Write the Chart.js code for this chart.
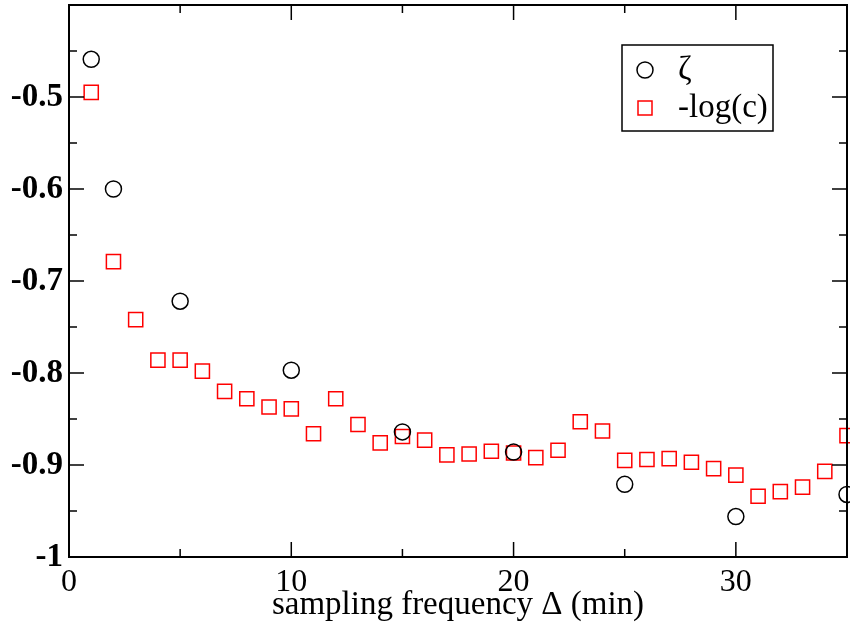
<!DOCTYPE html>
<html>
<head>
<meta charset="utf-8">
<script src="https://cdn.jsdelivr.net/npm/chart.js@4.4.0/dist/chart.umd.min.js"></script>
<style>
  html, body { margin: 0; padding: 0; background: #fff; }
</style>
</head>
<body>
<canvas id="chart" width="850" height="628"></canvas>
<script>
// data
const zetaX = [1, 2, 5, 10, 15, 20, 25, 30, 35];
const zetaY = [-0.459, -0.600, -0.722, -0.797, -0.864, -0.886, -0.921, -0.956, -0.932];

const logcX = [1, 2, 3, 4, 5, 6, 7, 8, 9, 10, 11, 12, 13, 14, 15, 16, 17, 18,
  19, 20, 21, 22, 23, 24, 25, 26, 27, 28, 29, 30, 31, 32, 33, 34, 35];
const logcY = [-0.495, -0.679, -0.742, -0.786, -0.786, -0.798, -0.820, -0.828, -0.837, -0.839,
  -0.866, -0.828, -0.856, -0.876, -0.869, -0.873, -0.889, -0.888, -0.885, -0.887,
  -0.892, -0.884, -0.853, -0.863, -0.895, -0.894, -0.893, -0.897, -0.904, -0.911,
  -0.934, -0.929, -0.924, -0.907, -0.868];

const xTicks = [0, 10, 20, 30];
const xMinor = [5, 15, 25, 35];
const yTicks = [-1, -0.9, -0.8, -0.7, -0.6, -0.5, -0.4];
const yMinor = [-0.95, -0.85, -0.75, -0.65, -0.55, -0.45];

const serif = "'Liberation Serif', 'DejaVu Serif', serif";

function toPoints(xs, ys) {
  return xs.map((x, i) => ({ x: x, y: ys[i] }));
}

// box around the plot with inward ticks on all four sides
const frameTicks = {
  id: 'frameTicks',
  afterDraw(chart) {
    const { ctx, chartArea: a, scales: { x, y } } = chart;
    ctx.save();
    ctx.strokeStyle = '#000';
    const line = (x1, y1, x2, y2) => {
      ctx.beginPath();
      ctx.moveTo(x1, y1);
      ctx.lineTo(x2, y2);
      ctx.stroke();
    };
    ctx.lineWidth = 1.5;
    xTicks.forEach(v => {
      const p = x.getPixelForValue(v);
      line(p, a.bottom, p, a.bottom - 15);
      line(p, a.top, p, a.top + 15);
    });
    xMinor.forEach(v => {
      const p = x.getPixelForValue(v);
      line(p, a.bottom, p, a.bottom - 8);
      line(p, a.top, p, a.top + 8);
    });
    yTicks.forEach(v => {
      const p = y.getPixelForValue(v);
      line(a.left, p, a.left + 15, p);
      line(a.right, p, a.right - 15, p);
    });
    yMinor.forEach(v => {
      const p = y.getPixelForValue(v);
      line(a.left, p, a.left + 8, p);
      line(a.right, p, a.right - 8, p);
    });
    ctx.lineWidth = 2;
    ctx.strokeRect(a.left, a.top, a.right - a.left, a.bottom - a.top);
    ctx.restore();
  }
};

// boxed legend in the upper right
const boxLegend = {
  id: 'boxLegend',
  afterDraw(chart) {
    const ctx = chart.ctx;
    const bx = 622, by = 45, bw = 151, bh = 86;
    ctx.save();
    ctx.fillStyle = '#fff';
    ctx.fillRect(bx, by, bw, bh);
    ctx.strokeStyle = '#000';
    ctx.lineWidth = 1.5;
    ctx.strokeRect(bx, by, bw, bh);
    chart.data.datasets.forEach((ds, i) => {
      const cy = by + 25 + i * 38;
      ctx.strokeStyle = ds.borderColor;
      ctx.lineWidth = ds.borderWidth;
      ctx.beginPath();
      if (ds.pointStyle === 'rect') {
        ctx.rect(bx + 16, cy - 7, 14, 14);
      } else {
        ctx.arc(bx + 23, cy, 8, 0, Math.PI * 2);
      }
      ctx.stroke();
      ctx.fillStyle = '#000';
      ctx.font = '33px ' + serif;
      ctx.textBaseline = 'middle';
      ctx.fillText(ds.label, bx + 56, cy);
    });
    ctx.restore();
  }
};

new Chart(document.getElementById('chart'), {
  type: 'scatter',
  data: {
    datasets: [
      {
        label: 'ζ',
        data: toPoints(zetaX, zetaY),
        pointStyle: 'circle',
        pointRadius: 8,
        borderColor: '#000',
        borderWidth: 1.5,
        backgroundColor: 'rgba(0,0,0,0)'
      },
      {
        label: '-log(c)',
        data: toPoints(logcX, logcY),
        pointStyle: 'rect',
        pointRadius: 10,
        borderColor: '#ff0000',
        borderWidth: 1.5,
        backgroundColor: 'rgba(0,0,0,0)'
      }
    ]
  },
  options: {
    responsive: false,
    animation: false,
    clip: false,
    layout: { autoPadding: false, padding: { top: 5, right: 3, left: 0, bottom: 0 } },
    plugins: {
      legend: { display: false },
      tooltip: { enabled: false }
    },
    scales: {
      x: {
        type: 'linear',
        min: 0,
        max: 35,
        grid: { display: false, drawTicks: false },
        border: { display: false },
        afterBuildTicks: s => { s.ticks = xTicks.map(v => ({ value: v })); },
        afterFit: s => {
          s.height = 71;
          s.paddingLeft = 0;
          s.paddingRight = 0;
        },
        ticks: {
          padding: 6,
          color: '#000',
          font: { family: serif, size: 32 },
          callback: v => String(v)
        },
        title: {
          display: true,
          text: 'sampling frequency Δ (min)',
          color: '#000',
          font: { family: serif, size: 33 },
          padding: { top: 0, bottom: 3 }
        }
      },
      y: {
        type: 'linear',
        min: -1,
        max: -0.4,
        grid: { display: false, drawTicks: false },
        border: { display: false },
        afterBuildTicks: s => { s.ticks = yTicks.map(v => ({ value: v })); },
        afterFit: s => {
          s.width = 69;
          s.paddingTop = 0;
          s.paddingBottom = 0;
        },
        ticks: {
          padding: 6,
          color: '#000',
          font: { family: serif, size: 33, weight: 'bold' },
          callback: v => (Math.abs(v + 0.4) < 1e-9 ? '' : String(Math.round(v * 10) / 10))
        }
      }
    }
  },
  plugins: [frameTicks, boxLegend]
});
</script>
</body>
</html>
